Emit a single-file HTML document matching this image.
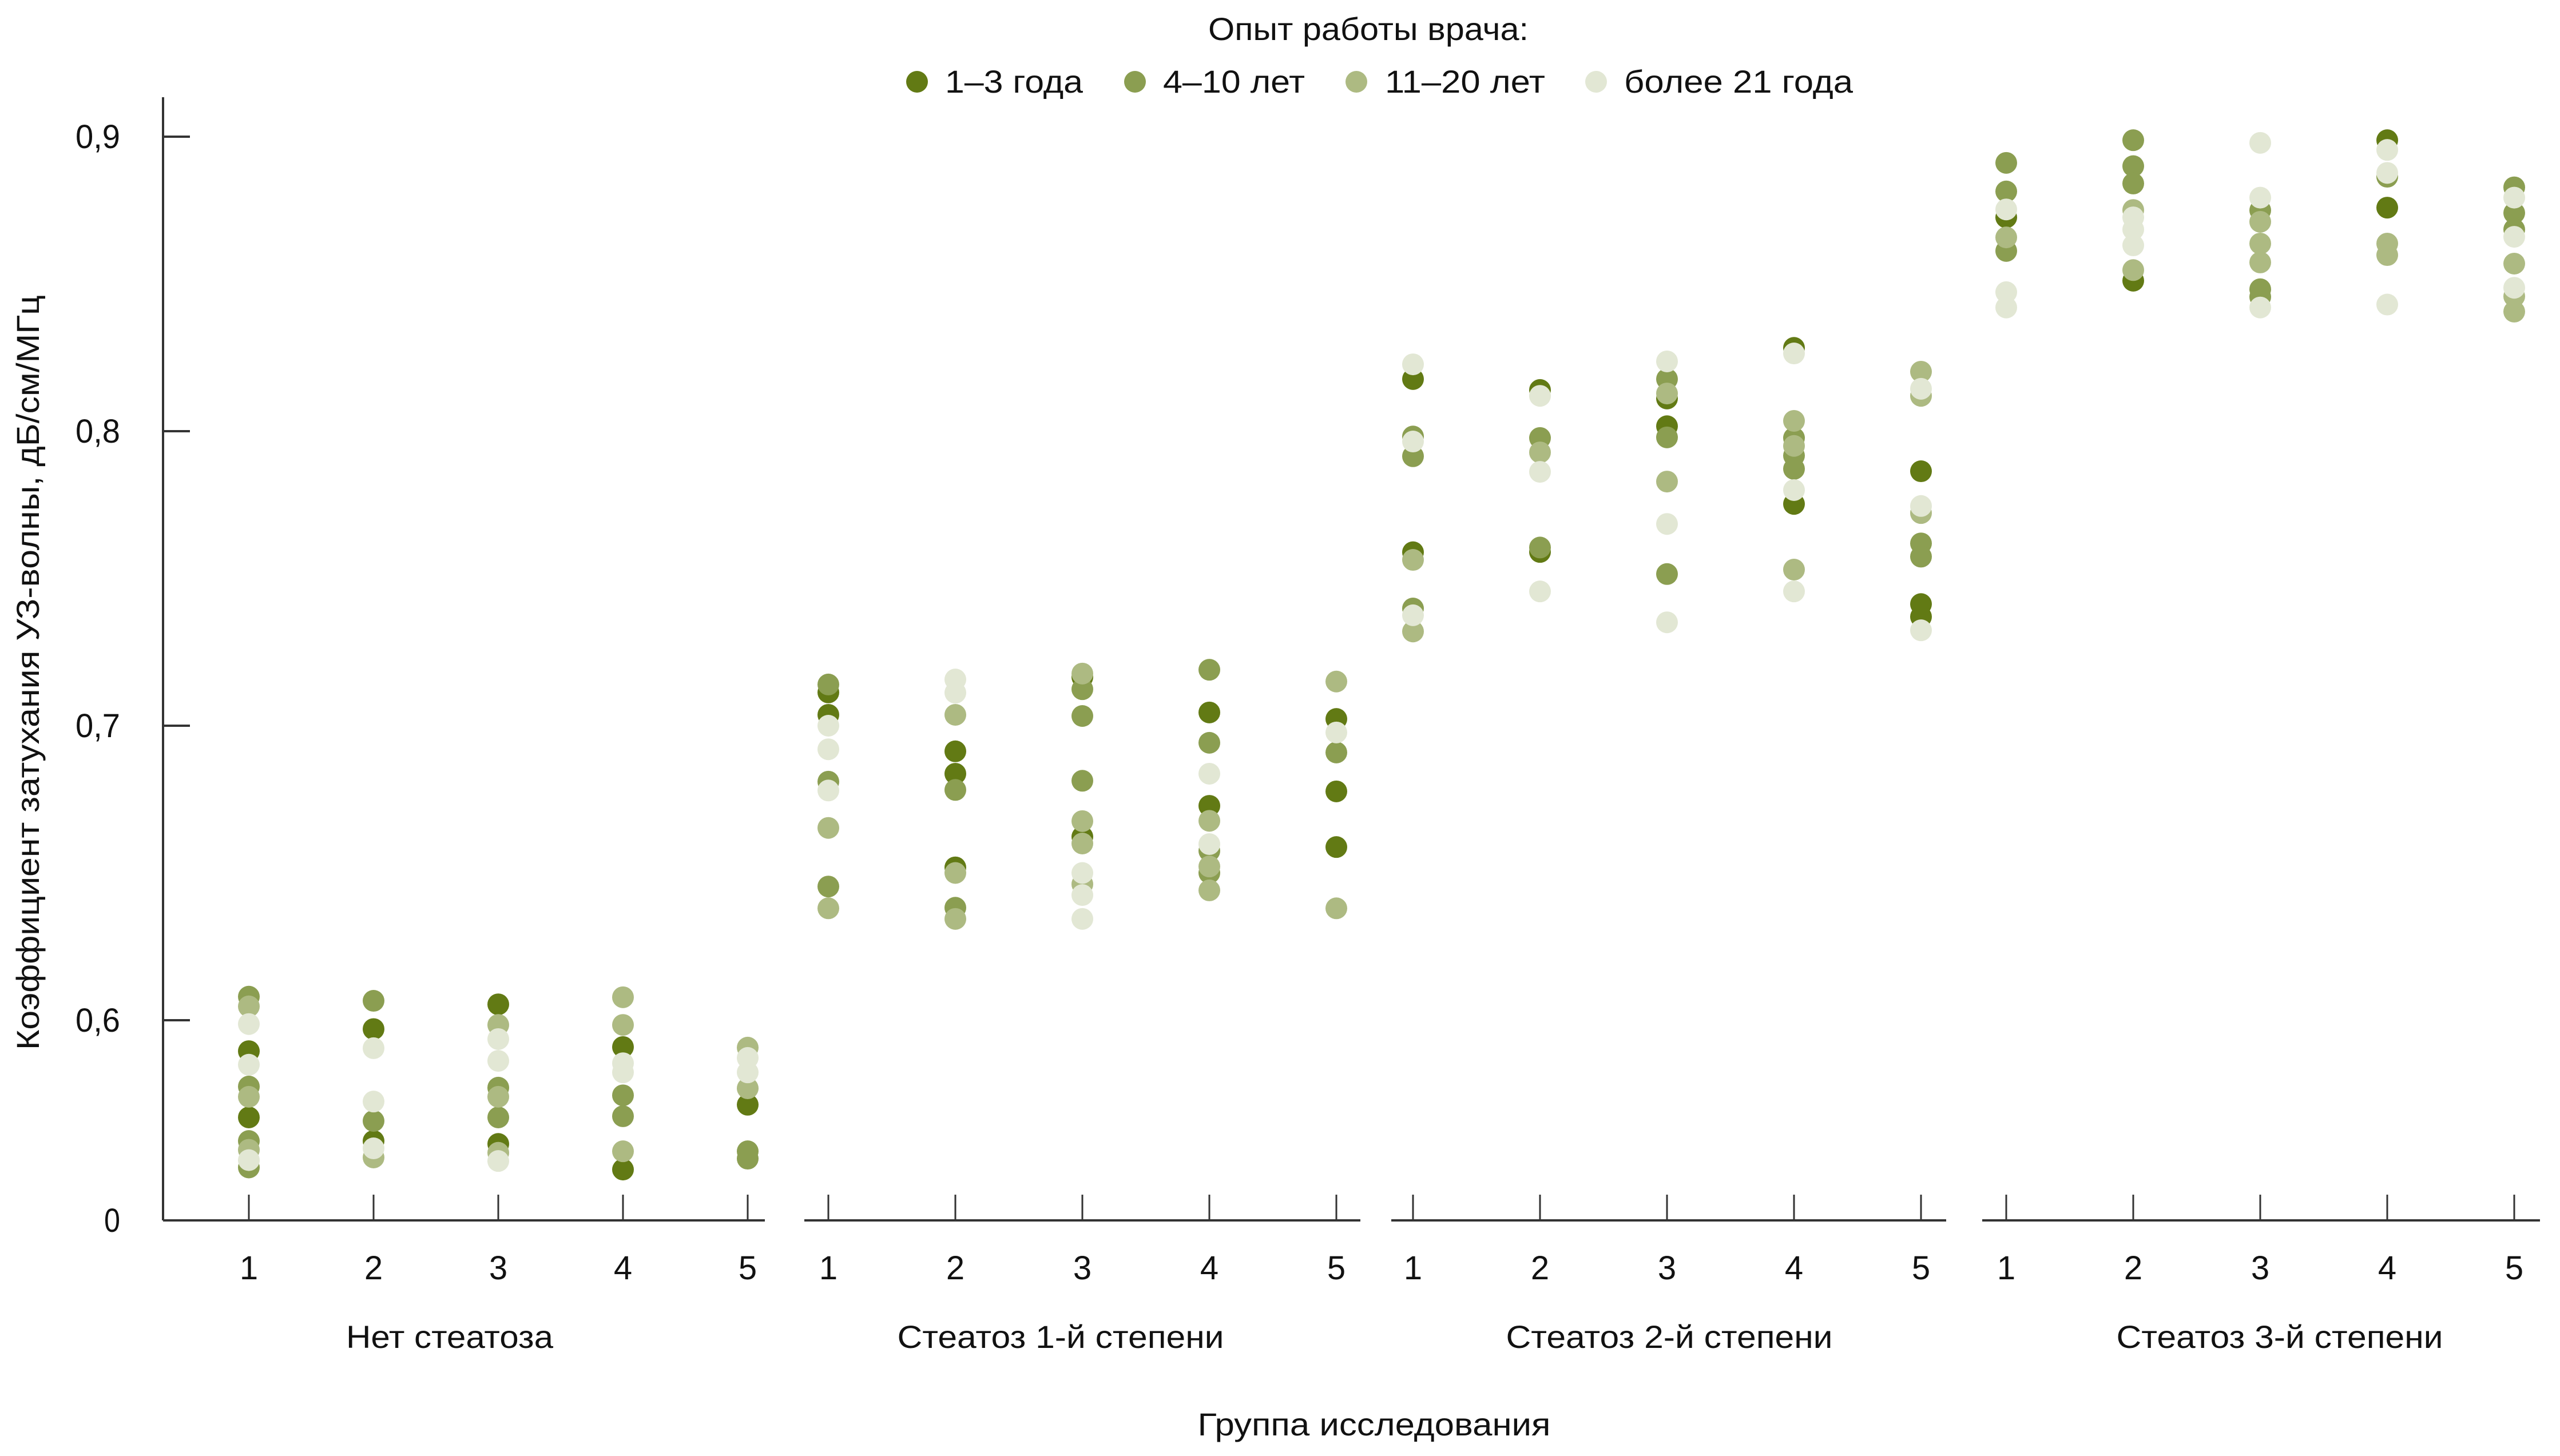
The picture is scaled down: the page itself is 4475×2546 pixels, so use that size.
<!DOCTYPE html>
<html><head><meta charset="utf-8"><style>
html,body{margin:0;padding:0;background:#fff;}
svg{display:block;font-family:"Liberation Sans",sans-serif;}
</style></head><body>
<svg id="chart" width="4475" height="2546" viewBox="0 0 4475 2546" xmlns="http://www.w3.org/2000/svg">
<rect width="4475" height="2546" fill="#fff"/>
<g>
<text x="2392" y="70" font-size="56" text-anchor="middle" textLength="560" lengthAdjust="spacingAndGlyphs" fill="#111">Опыт работы врача:</text>
<g><circle cx="1603" cy="143" r="19" fill="#627a14"/><text x="1652" y="162" font-size="56" textLength="241" lengthAdjust="spacingAndGlyphs" fill="#111">1–3 года</text></g>
<g><circle cx="1984" cy="143" r="19" fill="#8b9e51"/><text x="2033" y="162" font-size="56" textLength="248" lengthAdjust="spacingAndGlyphs" fill="#111">4–10 лет</text></g>
<g><circle cx="2371" cy="143" r="19" fill="#adba82"/><text x="2421" y="162" font-size="56" textLength="280" lengthAdjust="spacingAndGlyphs" fill="#111">11–20 лет</text></g>
<g><circle cx="2790" cy="143" r="19" fill="#e2e7d4"/><text x="2839" y="162" font-size="56" textLength="400" lengthAdjust="spacingAndGlyphs" fill="#111">более 21 года</text></g>
</g>
<text transform="translate(68,1176) rotate(-90)" font-size="56" text-anchor="middle" textLength="1320" lengthAdjust="spacingAndGlyphs" fill="#111">Коэффициент затухания УЗ-волны, дБ/см/МГц</text>
<text x="2402" y="2510" font-size="56" text-anchor="middle" textLength="617" lengthAdjust="spacingAndGlyphs" fill="#111">Группа исследования</text>
<g id="axes"></g>
<g id="marks"></g>
</svg>
<script>
const groups = ["Нет стеатоза","Стеатоз 1-й степени","Стеатоз 2-й степени","Стеатоз 3-й степени"];
const columnLabels = ["1","2","3","4","5"];
const seriesNames = ["1–3 года","4–10 лет","11–20 лет","более 21 года"];
const yTicks = [0.6,0.7,0.8,0.9];
const yTickLabels = ["0,6","0,7","0,8","0,9"];
const series1to3 = [
 [0.5895,0.567],[0.597,0.559],[0.6054,0.558],[0.5909,0.5493],[0.5713],
 [0.7113,0.7037],[0.6913,0.6837,0.6519],[0.7165,0.6623],[0.7045,0.6728],[0.7023,0.6777,0.6588],
 [0.8177,0.7589],[0.814,0.759],[0.8111,0.8017],[0.8283,0.7753],[0.7864,0.7413,0.737],
 [0.8726],[0.8511],[],[0.8988,0.8759],[]
];
const series4to10 = [
 [0.608,0.5775,0.559,0.550],[0.6066,0.5658],[0.5771,0.567],[0.5745,0.5674],[0.5555,0.553],
 [0.714,0.681,0.6454],[0.6782,0.6382],[0.7124,0.7033,0.6813],[0.719,0.6942,0.6575,0.65],[0.6909],
 [0.7982,0.7915,0.7398],[0.7977,0.7605],[0.8177,0.7979,0.7515],[0.7977,0.7917,0.7872],[0.7619,0.7574],
 [0.8911,0.8814,0.8612],[0.8988,0.89,0.8841],[0.875,0.8482,0.8456],[0.8864],[0.8828,0.8741,0.8685]
];
const series11to20 = [
 [0.6047,0.574,0.556],[0.5534],[0.5984,0.574,0.555],[0.6078,0.5984,0.5555],[0.5907,0.5769],
 [0.6653,0.638],[0.7037,0.650,0.6344],[0.7177,0.6676,0.66,0.6462],[0.6677,0.6522,0.6441],[0.715,0.638],
 [0.7563,0.732],[0.7928],[0.8128,0.7829],[0.8035,0.795,0.753],[0.8202,0.812,0.7722],
 [0.8658],[0.8751,0.8547],[0.8711,0.8637,0.8573],[0.8637,0.8598],[0.8569,0.8458,0.8406]
];
const series21plus = [
 [0.5987,0.5849,0.5525],[0.5905,0.5724,0.5565],[0.5936,0.5862,0.5522],[0.5854,0.5823],[0.5872,0.5823],
 [0.700,0.692,0.678],[0.7157,0.7112],[0.650,0.6425,0.6344],[0.6837,0.6598],[0.6977],
 [0.8227,0.7965,0.7375],[0.812,0.7862,0.7456],[0.8237,0.7685,0.7351],[0.8264,0.78,0.7456],[0.8144,0.7746,0.7324],
 [0.8753,0.8472,0.842],[0.8726,0.8685,0.8631],[0.8979,0.8793,0.842],[0.8955,0.8877,0.843],[0.8793,0.866,0.8487]
];
const allSeries = [series1to3, series4to10, series11to20, series21plus];
const colors = ["#627a14","#8b9e51","#adba82","#e2e7d4"];

const NS = "http://www.w3.org/2000/svg";
const Y0 = 2134, Y06 = 1784, PX_PER = 5150;
function yScale(v){ return Y06 - (v - 0.6) * PX_PER; }
const panelFirstTick = [435,1448,2470,3507];
const panelStep = [218,222,222,222];
const panelAxis = [[285,1337],[1406,2378],[2432,3402],[3465,4440]];
function xScale(p, c){ return panelFirstTick[p] + c * panelStep[p]; }
function mk(tag, attrs, parent){ const e = document.createElementNS(NS, tag); for (const k in attrs) e.setAttribute(k, attrs[k]); parent.appendChild(e); return e; }

const axes = document.getElementById('axes');
const marks = document.getElementById('marks');
const yAxis = mk('line', {x1:285,y1:170,x2:285,y2:Y0,stroke:'#333','stroke-width':4}, axes);


yTicks.forEach((t,i) => {
  const y = yScale(t);
  const tk = mk('line', {x1:285,y1:y,x2:332,y2:y,stroke:'#333','stroke-width':4}, axes);
  
  
  const lb = mk('text', {x:210,y:y+20,'font-size':58,'text-anchor':'end',fill:'#111',textLength:78,lengthAdjust:'spacingAndGlyphs'}, axes);
  lb.textContent = yTickLabels[i];
  
  
});
const zl = mk('text', {x:210,y:Y0+20,'font-size':58,'text-anchor':'end',fill:'#111',textLength:28,lengthAdjust:'spacingAndGlyphs'}, axes);
zl.textContent = "0";



const groupCenters = [786,1854,2918,3985];
groups.forEach((g,p) => {
  const ax = mk('line', {x1:panelAxis[p][0],y1:Y0,x2:panelAxis[p][1],y2:Y0,stroke:'#333','stroke-width':4}, axes);
  
  
  columnLabels.forEach((c,ci) => {
    const x = xScale(p, ci);
    const t = mk('line', {x1:x,y1:2089,x2:x,y2:Y0,stroke:'#333','stroke-width':3}, axes);
    
    
    const l = mk('text', {x:x,y:2237,'font-size':58,'text-anchor':'middle',fill:'#111'}, axes);
    l.textContent = c;
    
    
  });
  const gl = mk('text', {x:groupCenters[p],y:2357,'font-size':56,'text-anchor':'middle',fill:'#111',textLength:(p===0?362:571),lengthAdjust:'spacingAndGlyphs'}, axes);
  gl.textContent = g;
  
  
});

allSeries.forEach((s,si) => {
  s.forEach((vals,idx) => {
    const p = Math.floor(idx/5), c = idx % 5;
    vals.forEach(v => {
      const d = mk('ellipse', {cx:xScale(p,c),cy:yScale(v),rx:19,ry:19,fill:colors[si]}, marks);
      
      
    });
  });
});
</script>
</body></html>
